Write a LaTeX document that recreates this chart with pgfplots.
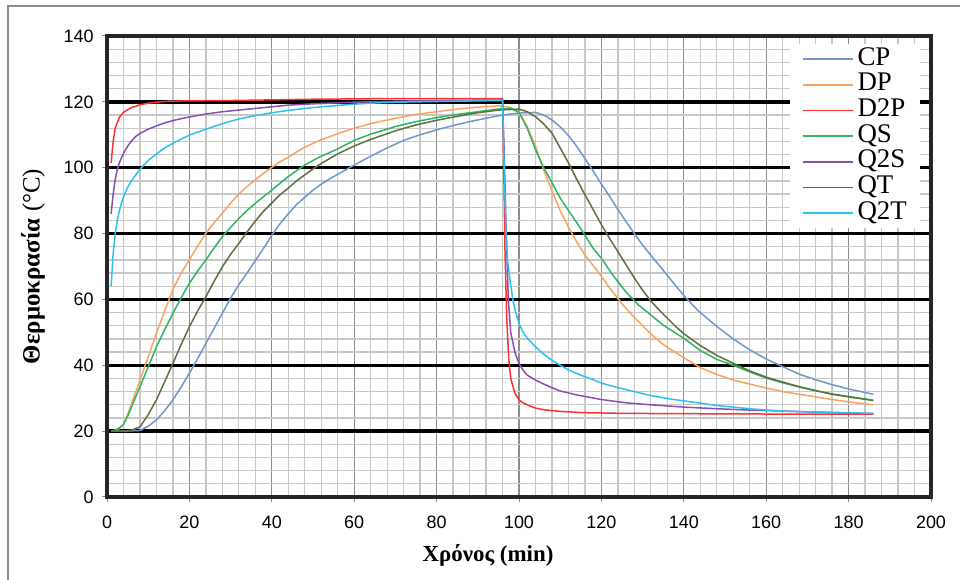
\documentclass[border=0pt]{standalone}
\usepackage{fontspec}
\setmainfont{Liberation Serif}
\newfontfamily\ticksf{Liberation Sans}
\usepackage{pgfplots}
\pgfplotsset{compat=1.18}

\definecolor{cpc}{HTML}{6F97CC}
\definecolor{dpc}{HTML}{F9A35F}
\definecolor{dtpc}{HTML}{FF3030}
\definecolor{qsc}{HTML}{2DB564}
\definecolor{qtsc}{HTML}{8750B0}
\definecolor{qtc}{HTML}{5F7040}
\definecolor{qttc}{HTML}{2EC0F0}

\begin{document}
\begin{tikzpicture}[x=1bp,y=1bp]
\path[use as bounding box] (0bp,0bp) rectangle (960bp,580bp);
% chart frame
\draw[black!45, line width=2bp] (8bp,0bp) -- (8bp,574bp) -- (960bp,574bp);

\begin{axis}[
  at={(107bp,83bp)}, anchor=south west,
  scale only axis, width=824bp, height=461bp,
  xmin=0, xmax=200, ymin=0, ymax=140,
  xtick={0,20,...,200}, ytick={0,20,...,140},
  minor x tick num=4, minor y tick num=4,
  grid=both,
  minor grid style={color=black!22, line width=1.3bp},
  major x grid style={color=black!45, line width=1.3bp},
  major y grid style={color=black, line width=3.5bp},
  axis line style={color=black!85, line width=3.5bp},
  tick pos=left, tick align=outside,
  major tick length=5bp, minor tick length=0bp,
  tick style={color=black!45, line width=1bp},
  /pgf/number format/assume math mode=true,
  ticklabel style={font=\ticksf\fontsize{18}{18}\selectfont},
  xticklabel style={yshift=-10bp},
  yticklabel style={xshift=-5bp},
  xlabel={\textbf{Χρόνος (min)}},
  ylabel={\textbf{Θερμοκρασία} (°C)},
  xlabel style={font=\fontsize{23}{23}\selectfont,
    at={(axis description cs:0.4624,-0.1258)}, anchor=center},
  ylabel style={font=\fontsize{25}{25}\selectfont,
    at={(axis description cs:-0.0898,0.5)}, anchor=center},
  legend style={at={(1,1)}, anchor=north east, xshift=-11bp, yshift=-8bp,
    draw=none, fill=white, font=\fontsize{27}{27}\selectfont,
    inner xsep=12bp, inner ysep=2bp,
    nodes={inner sep=1bp, text height=18bp, text depth=5.7bp},
    column sep=3bp},
  legend cell align=left,
  legend image code/.code={\draw[#1, line width=1.6bp] (0bp,0bp) -- (50bp,0bp);},
  every axis plot/.append style={line width=1.5bp, line join=round, no markers},
]

% CP
\addplot[cpc] coordinates {
(1,20)(4,20)(8,20.2)(10,21.5)(12,23.4)(14,26.2)(16,29.5)(18,33.4)(20,37.6)
(22,42)(24,46.7)(26,51.2)(28,55.8)(30,60.4)(32,64.5)(34,68)(36,71.8)(38,75.5)
(40,79.5)(42,83)(44,86)(46,88.8)(48,91)(50,93.2)(52,95)(54,96.6)(56,98)
(60,100.8)(64,103.5)(68,106)(72,108.3)(76,110)(80,111.5)(84,112.8)(88,114)
(92,115)(96,116)(100,116.6)(104,116.8)(106,116)(108,114.5)(110,112.4)
(112,109.8)(114,106.5)(116,102.8)(118,99)(120,95)(122,91.3)(124,87.3)
(126,83.6)(128,80)(130,76.5)(132,73.4)(134,70.4)(136,67.3)(138,64.2)
(140,61.2)(142,58.5)(144,56)(148,51.8)(152,48)(156,44.7)(160,41.9)
(164,39.6)(168,37.3)(172,35.6)(176,34.1)(180,32.8)(186,31.2)};
\addlegendentry{CP}

% DP
\addplot[dpc] coordinates {
(1,20)(2,20.2)(3,20.8)(4,22)(5,25)(6,28.5)(8,35.5)(10,42.5)(12,49.7)(14,56.5)
(16,63)(18,68)(20,72)(22,76.2)(24,80.1)(26,83.3)(28,86.2)(30,89.3)(32,92)
(34,94.3)(36,96.3)(38,98.3)(40,100.1)(42,101.8)(44,103.2)(46,104.8)(48,106.2)
(50,107.4)(52,108.5)(56,110.3)(60,112)(64,113.4)(70,115)(75,116.2)(80,117)
(85,117.8)(90,118.4)(95,118.8)(98,118.3)(100,117)(102,112.5)(104,106.5)
(106,99.3)(108,93)(110,87)(112,82)(114,77.5)(116,73.5)(118,70.3)(120,67)
(122,63.5)(124,60.3)(126,57.2)(128,54.5)(130,52)(132,49.5)(135,46.3)
(140,42.3)(144,39.3)(148,37.2)(152,35.5)(156,34.3)(160,33.1)(164,32)
(168,31.2)(172,30.4)(176,29.6)(180,28.9)(186,28)};
\addlegendentry{DP}

% D2P
\addplot[dtpc] coordinates {
(1,101.5)(1.5,108)(2,112)(3,115.3)(4,116.8)(5,117.6)(6,118.3)(8,119.1)
(10,119.6)(12,119.9)(15,120.2)(20,120.3)(30,120.4)(40,120.6)(50,120.8)
(60,120.9)(70,121)(80,121)(90,121)(96,121)(96.3,100)(96.6,75)(97,55)
(97.5,42)(98,36)(99,31.5)(100,29.5)(101,28.6)(102,28)(104,27)(106,26.5)
(110,26)(116,25.6)(125,25.4)(140,25.3)(160,25.2)(186,25.2)};
\addlegendentry{D2P}

% QS
\addplot[qsc] coordinates {
(1,20)(2,20.3)(3,21)(4,22)(5,24.5)(6,27.5)(8,33.5)(10,39.5)(12,45.6)(14,50.8)
(16,55.8)(18,60.5)(20,64.9)(22,68.6)(24,72)(26,75.6)(28,79.1)(30,81.9)
(32,84.6)(34,87)(36,89.2)(38,91.2)(40,93.2)(42,95.3)(44,97.3)(46,99.1)
(48,100.8)(50,102.2)(52,103.5)(56,105.7)(60,108.3)(64,110.2)(70,112.5)
(75,114)(80,115.2)(85,116.2)(90,117)(95,117.8)(98,118)(100,116.8)(102,112)
(104,105.5)(106,100)(108,95.5)(110,90.8)(112,87)(115,81.5)(118,75.5)
(120,72.5)(123,67)(126,62.2)(129,58.3)(132,55.3)(135,52.2)(138,49.8)
(140,48.2)(144,44.5)(148,41.8)(152,40)(156,38)(160,36.1)(164,34.7)
(168,33.4)(172,32.3)(176,31.3)(180,30.5)(186,29.4)};
\addlegendentry{QS}

% Q2S
\addplot[qtsc] coordinates {
(1,86)(1.5,92)(2,96.5)(2.5,99.5)(3,101.5)(4,104.4)(5,106.5)(6,108.2)(7,109.5)
(8,110.4)(10,111.7)(12,112.7)(14,113.6)(16,114.3)(18,114.9)(20,115.4)
(24,116.3)(28,117)(32,117.5)(36,118)(40,118.5)(44,119)(50,119.4)(56,119.7)
(60,119.9)(70,120.2)(80,120.4)(90,120.5)(96,120.5)(96.4,105)(96.8,85)
(97.4,60)(98,50)(99,44)(100,40.5)(101,38.5)(102,37)(104,35.5)(106,34.3)
(108,33.2)(110,32.2)(114,31)(120,29.6)(126,28.6)(132,28)(140,27.3)
(148,26.8)(156,26.4)(164,26.1)(172,25.8)(180,25.5)(186,25.3)};
\addlegendentry{Q2S}

% QT
\addplot[qtc] coordinates {
(1,20)(4,20)(6,20.3)(8,21.3)(10,25)(12,29.5)(14,35)(16,40.6)(18,46.3)
(20,51.7)(22,56.5)(24,60.8)(26,65.5)(28,69.9)(30,73.7)(32,77)(34,80.5)
(36,83.8)(38,86.8)(40,89.3)(42,91.8)(44,93.8)(46,96)(48,97.8)(50,99.6)
(52,101.3)(56,104.2)(60,106.6)(64,108.6)(70,111.2)(75,113)(80,114.4)
(85,115.6)(90,116.7)(95,117.5)(100,117.8)(102,117)(104,115.5)(106,113.3)
(108,110.5)(110,106)(112,101.5)(114,96.5)(116,91.8)(118,87.3)(120,82.7)
(122,78.5)(124,74.5)(126,70.5)(128,66.5)(130,62.8)(132,59.5)(134,56.8)
(136,54.3)(138,51.8)(140,49.6)(144,46)(148,43)(152,40.6)(156,38.3)
(160,36.4)(164,34.9)(168,33.5)(172,32.3)(176,31.2)(180,30.4)(186,29.3)};
\addlegendentry{QT}

% Q2T
\addplot[qttc] coordinates {
(1,64)(1.5,74)(2,80)(2.5,84)(3,87)(4,91.2)(5,94)(6,96.2)(7,97.8)(8,99.5)
(10,102.2)(12,104.2)(14,106)(16,107.4)(18,108.7)(20,109.9)(24,111.7)
(28,113.4)(32,114.8)(36,115.8)(40,116.7)(44,117.4)(48,118)(52,118.5)
(56,118.9)(60,119.3)(64,119.6)(70,119.9)(80,120.1)(90,120.3)(96,120.4)
(96.4,100)(96.8,82)(97.2,72)(97.8,66)(98.5,60)(99.2,56)(100,52.7)(101,50)
(102,48.3)(104,45.6)(106,43.4)(108,41.5)(110,40)(112,38.6)(115,37)
(118,35.6)(120,34.6)(124,33.2)(128,32)(132,30.8)(136,29.9)(140,29.2)
(144,28.5)(148,27.8)(152,27.3)(156,26.8)(160,26.4)(166,26)(172,25.8)
(180,25.6)(186,25.4)};
\addlegendentry{Q2T}

\end{axis}
\end{tikzpicture}
\end{document}
